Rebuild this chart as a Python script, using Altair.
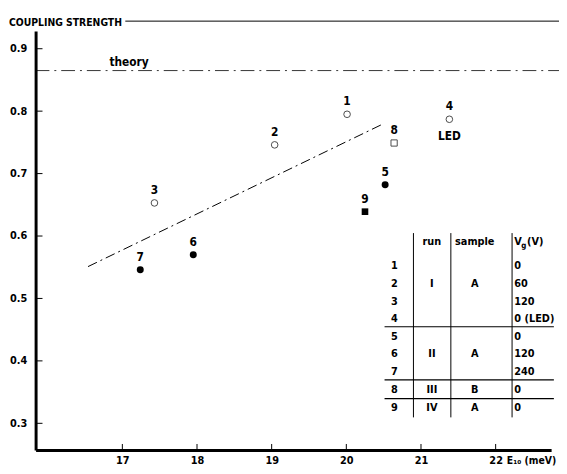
import altair as alt
import pandas as pd

# ---- data ----
ids = [1, 2, 3, 4, 5, 6, 7, 8, 9]
e10 = [20.01, 19.04, 17.43, 21.38, 20.52, 17.95, 17.24, 20.64, 20.25]
coupling = [0.795, 0.746, 0.653, 0.787, 0.682, 0.570, 0.546, 0.749, 0.639]
kind = ["open_circle"] * 4 + ["filled_circle"] * 3 + ["open_square", "filled_square"]

fit_x = [16.54, 20.50]
fit_y = [0.551, 0.780]
theory_y = 0.865

x_ticks = [17, 18, 19, 20, 21, 22]
y_ticks = [0.3, 0.4, 0.5, 0.6, 0.7, 0.8, 0.9]

# table content
tbl_rows = ["1", "2", "3", "4", "5", "6", "7", "8", "9"]
tbl_run = ["", "I", "", "", "", "II", "", "III", "IV"]
tbl_sample = ["", "A", "", "", "", "A", "", "B", "A"]
tbl_vg = ["0", "60", "120", "0 (LED)", "0", "120", "240", "0", "0"]

# table layout (data coordinates)
row_y = [0.5526, 0.5234, 0.4950, 0.4673, 0.4389, 0.4105, 0.3829, 0.3537, 0.3252]
header_y = 0.5905
col_num_x, col_run_x, col_sample_x, col_vg_x = 20.644, 21.146, 21.72, 22.25
vlines_x = [20.899, 21.40, 22.22]
vline_y = (0.6047, 0.3095)
hlines_y = [0.4547, 0.3695, 0.3394]
hline_x = (20.512, 22.78)

W, H = 523, 425
FONT = "DejaVu Sans Condensed"

xs = alt.Scale(domain=[15.838, 22.743], nice=False, zero=False)
ys = alt.Scale(domain=[0.2574, 0.9284], nice=False, zero=False)

pts = pd.DataFrame({"id": ids, "x": e10, "y": coupling, "kind": kind})

X = alt.X("x:Q", scale=xs, axis=alt.Axis(values=x_ticks, title=None, ticks=False, format="d",
                                             grid=False, labelPadding=5, domainWidth=3,
                                             domainColor="black", labelColor="black",
                                             labelFont=FONT, labelFontWeight="bold",
                                             labelFontSize=11))
Y = alt.Y("y:Q", scale=ys, axis=alt.Axis(values=y_ticks, title=None, ticks=False, format=".1f",
                                             grid=False, labelPadding=9, domainWidth=3,
                                             domainColor="black", labelColor="black",
                                             labelFont=FONT, labelFontWeight="bold",
                                             labelFontSize=11))

base = alt.Chart(pts)

open_c = base.transform_filter(alt.datum.kind == "open_circle").mark_point(
    shape="circle", filled=False, stroke="black", strokeWidth=1, size=45).encode(x=X, y=Y)
fill_c = base.transform_filter(alt.datum.kind == "filled_circle").mark_point(
    shape="circle", filled=True, fill="black", opacity=1, size=50).encode(x="x:Q", y="y:Q")
open_s = base.transform_filter(alt.datum.kind == "open_square").mark_point(
    shape="square", filled=False, stroke="black", strokeWidth=1, size=40).encode(x="x:Q", y="y:Q")
fill_s = base.transform_filter(alt.datum.kind == "filled_square").mark_point(
    shape="square", filled=True, fill="black", opacity=1, size=45).encode(x="x:Q", y="y:Q")

labels = base.mark_text(font=FONT, fontWeight="bold", fontSize=12, dy=-13, color="black").encode(
    x="x:Q", y="y:Q", text="id:N")
led = base.transform_filter(alt.datum.id == 4).mark_text(
    font=FONT, fontWeight="bold", fontSize=12, dy=17, color="black").encode(
    x="x:Q", y="y:Q", text=alt.value("LED"))

fit = alt.Chart(pd.DataFrame({"x": fit_x, "y": fit_y})).mark_line(
    color="black", strokeWidth=1, strokeDash=[10, 4, 2, 4]).encode(x="x:Q", y="y:Q")

theory = alt.Chart(pd.DataFrame({"y": [theory_y]})).mark_rule(
    color="black", strokeWidth=0.8, strokeDash=[14, 5, 2, 5]).encode(
    y="y:Q", x=alt.value(0), x2=alt.value(W + 8))
theory_txt = alt.Chart(pd.DataFrame({"x": [17.09], "y": [0.878], "t": ["theory"]})).mark_text(
    font=FONT, fontWeight="bold", fontSize=12, color="black").encode(x="x:Q", y="y:Q", text="t:N")

# axis ticks drawn inward
xt = alt.Chart(pd.DataFrame({"x": x_ticks})).mark_rule(color="black", strokeWidth=1).encode(
    x="x:Q", y=alt.value(H), y2=alt.value(H - 6))
yt = alt.Chart(pd.DataFrame({"y": y_ticks})).mark_rule(color="black", strokeWidth=1).encode(
    y="y:Q", x=alt.value(0), x2=alt.value(7))

# title with line
title = alt.Chart(pd.DataFrame({"t": ["COUPLING STRENGTH"]})).mark_text(
    font=FONT, fontWeight="bold", fontSize=10.5, align="left", baseline="middle", color="black").encode(
    x=alt.value(-27), y=alt.value(-8), text="t:N")
title_line = alt.Chart(pd.DataFrame({"a": [0]})).mark_rule(color="black", strokeWidth=1).encode(
    x=alt.value(91), x2=alt.value(W + 8), y=alt.value(-10))

# x axis unit label
unit = alt.Chart(pd.DataFrame({"x": [22.15], "t": ["E\u2081\u2080 (meV)"]})).mark_text(
    font=FONT, fontWeight="bold", fontSize=10.5, align="left", baseline="middle", color="black").encode(
    x="x:Q", y=alt.value(H + 11), text="t:N")

# table
tdf = pd.DataFrame({"num": tbl_rows, "run": tbl_run, "sample": tbl_sample, "vg": tbl_vg, "y": row_y})
tcommon = dict(font=FONT, fontWeight="bold", fontSize=11, baseline="middle", color="black")
t_num = alt.Chart(tdf).mark_text(align="center", **tcommon).encode(
    x=alt.datum(col_num_x), y="y:Q", text="num:N")
t_run = alt.Chart(tdf).mark_text(align="center", **tcommon).encode(
    x=alt.datum(col_run_x), y="y:Q", text="run:N")
t_sample = alt.Chart(tdf).mark_text(align="center", **tcommon).encode(
    x=alt.datum(col_sample_x), y="y:Q", text="sample:N")
t_vg = alt.Chart(tdf).mark_text(align="left", **tcommon).encode(
    x=alt.datum(col_vg_x), y="y:Q", text="vg:N")

hdr = pd.DataFrame({"x": [col_run_x, col_sample_x], "t": ["run", "sample"], "y": [header_y] * 2})
t_hdr = alt.Chart(hdr).mark_text(align="center", **tcommon).encode(x="x:Q", y="y:Q", text="t:N")
vg_hdr = alt.Chart(pd.DataFrame({"x": [col_vg_x], "y": [header_y]}))
t_vgV = vg_hdr.mark_text(align="left", text="V", **tcommon).encode(x="x:Q", y="y:Q")
t_vgg = vg_hdr.mark_text(align="left", text="g", font=FONT, fontWeight="bold", fontSize=8,
                         baseline="middle", color="black", dx=7, dy=4).encode(x="x:Q", y="y:Q")
t_vgU = vg_hdr.mark_text(align="left", text="(V)", dx=13, **tcommon).encode(x="x:Q", y="y:Q")

vl = alt.Chart(pd.DataFrame({"x": vlines_x})).mark_rule(color="black", strokeWidth=1).encode(
    x="x:Q", y=alt.datum(vline_y[0]), y2=alt.datum(vline_y[1]))
hl = alt.Chart(pd.DataFrame({"y": hlines_y})).mark_rule(color="black", strokeWidth=1.2).encode(
    y="y:Q", x=alt.datum(hline_x[0]), x2=alt.datum(hline_x[1]))

chart = alt.layer(
    open_c, fill_c, open_s, fill_s, labels, led, fit, theory, theory_txt, xt, yt,
    title, title_line, unit,
    vl, hl, t_num, t_run, t_sample, t_vg, t_hdr, t_vgV, t_vgg, t_vgU,
).properties(
    width=W, height=H,
    autosize=alt.AutoSizeParams(type="none"),
    padding={"left": 28, "top": 20, "right": 8, "bottom": 13},
    background="white",
).configure_view(stroke=None)

chart.save("out.html", embed_options={"renderer": "svg", "actions": False})
